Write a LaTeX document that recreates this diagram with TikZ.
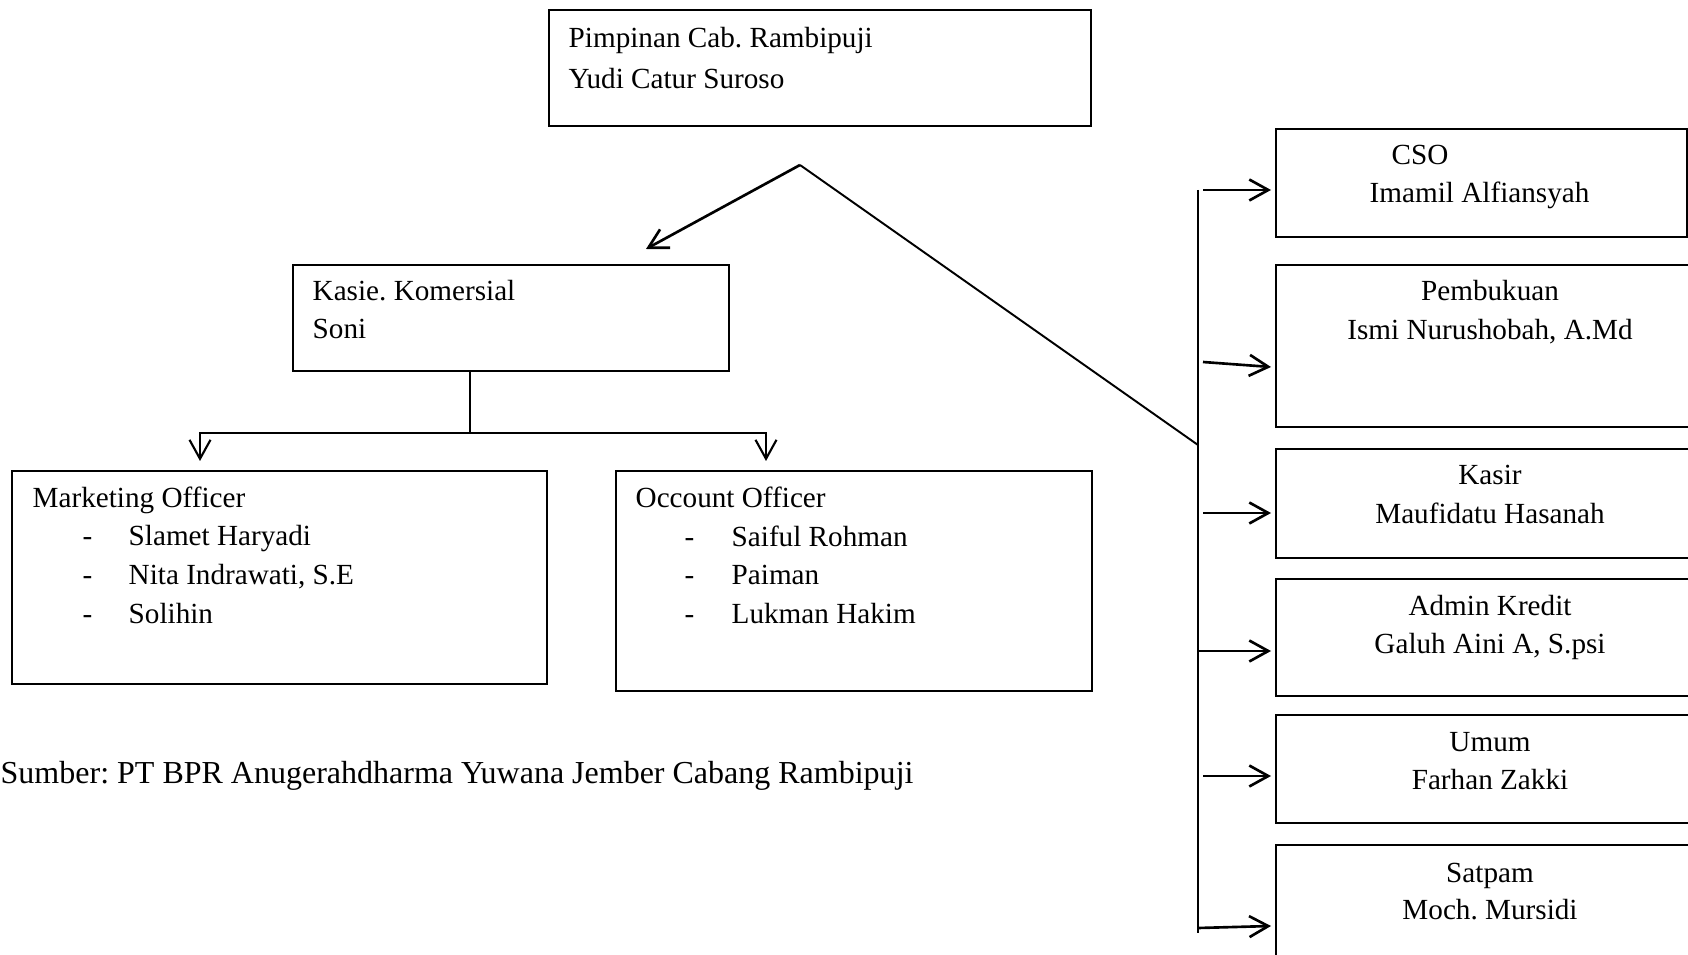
\documentclass[tikz,border=0pt]{standalone}
\usepackage{fontspec}
\setmainfont{Liberation Serif}
\frenchspacing
\usetikzlibrary{arrows.meta}

\begin{document}
\begin{tikzpicture}[x=0.01cm, y=-0.01cm, >={Straight Barb[length=1.9mm, width=2.1mm]},
  box/.style={draw, line width=0.55pt, inner sep=0pt, anchor=north west},
  lbl/.style={inner sep=0pt, font=\fontsize{8.3}{10}\selectfont},
  link/.style={line width=0.75pt}]
\clip (0,0) rectangle (1688,955);

% ===== kotak =====
\node[box, minimum width=5.42cm, minimum height=1.16cm] (pimpinan) at (548,9) {};
\node[box, minimum width=4.36cm, minimum height=1.06cm] (kasie) at (292,264) {};
\node[box, minimum width=5.35cm, minimum height=2.13cm] (marketing) at (11,470) {};
\node[box, minimum width=4.76cm, minimum height=2.20cm] (occount) at (615,470) {};
\node[box, minimum width=4.11cm, minimum height=1.08cm] (cso) at (1275,128) {};
\node[box, minimum width=4.40cm, minimum height=1.62cm] (pembukuan) at (1275,264) {};
\node[box, minimum width=4.40cm, minimum height=1.09cm] (kasir) at (1275,448) {};
\node[box, minimum width=4.40cm, minimum height=1.17cm] (admin) at (1275,578) {};
\node[box, minimum width=4.40cm, minimum height=1.08cm] (umum) at (1275,714) {};
\node[box, minimum width=4.40cm, minimum height=1.30cm] (satpam) at (1275,844) {};

% ===== teks kiri =====
\node[lbl, anchor=base west] (pimpinan1) at (568,48) {Pimpinan Cab. Rambipuji};
\node[lbl, anchor=base west] (pimpinan2) at (568,89) {Yudi Catur Suroso};
\node[lbl, anchor=base west] (kasie1) at (312,301) {Kasie. Komersial};
\node[lbl, anchor=base west] (kasie2) at (312,339) {Soni};

\node[lbl, anchor=base west] (marketing0) at (32,507) {Marketing Officer};
\node[lbl, anchor=base west] (mdash1) at (82,545) {-};
\node[lbl, anchor=base west] (mdash2) at (82,584) {-};
\node[lbl, anchor=base west] (mdash3) at (82,623) {-};
\node[lbl, anchor=base west] (marketing1) at (128,545) {Slamet Haryadi};
\node[lbl, anchor=base west] (marketing2) at (128,584) {Nita Indrawati, S.E};
\node[lbl, anchor=base west] (marketing3) at (128,623) {Solihin};

\node[lbl, anchor=base west] (occount0) at (635,507) {Occount Officer};
\node[lbl, anchor=base west] (odash1) at (684,546) {-};
\node[lbl, anchor=base west] (odash2) at (684,584) {-};
\node[lbl, anchor=base west] (odash3) at (684,623) {-};
\node[lbl, anchor=base west] (occount1) at (731,546) {Saiful Rohman};
\node[lbl, anchor=base west] (occount2) at (731,584) {Paiman};
\node[lbl, anchor=base west] (occount3) at (731,623) {Lukman Hakim};

\node[lbl, anchor=base west, font=\fontsize{9.1}{11}\selectfont] (sumber) at (0,783) {Sumber: PT BPR Anugerahdharma Yuwana Jember Cabang Rambipuji};

% ===== teks kanan =====
\node[lbl, anchor=base west] (cso1) at (1391,165) {CSO};
\node[lbl, anchor=base west] (cso2) at (1369,203) {Imamil Alfiansyah};
\node[lbl, anchor=base] (pembukuan1) at (1490,301) {Pembukuan};
\node[lbl, anchor=base] (pembukuan2) at (1490,340) {Ismi Nurushobah, A.Md};
\node[lbl, anchor=base] (kasir1) at (1490,485) {Kasir};
\node[lbl, anchor=base] (kasir2) at (1490,523) {Maufidatu Hasanah};
\node[lbl, anchor=base] (admin1) at (1490,615) {Admin Kredit};
\node[lbl, anchor=base] (admin2) at (1490,653) {Galuh Aini A, S.psi};
\node[lbl, anchor=base] (umum1) at (1490,751) {Umum};
\node[lbl, anchor=base] (umum2) at (1490,789) {Farhan Zakki};
\node[lbl, anchor=base] (satpam1) at (1490,882) {Satpam};
\node[lbl, anchor=base] (satpam2) at (1490,919) {Moch. Mursidi};

% ===== garis dari pimpinan =====
\coordinate (apex) at (800,165);
\coordinate (kasieIn) at (646,249);
\coordinate (busJoin) at (1198,445);
\coordinate (busTop) at (1198,190);
\coordinate (busBot) at (1198,933);
\draw[link, ->] (apex) -- (kasieIn);
\draw[line width=0.55pt] (apex) -- (busJoin);
\draw[line width=0.6pt] (busTop) -- (busBot);

% ===== cabang kasie =====
\coordinate (fork) at (470,433);
\draw[line width=0.6pt] (fork |- kasie.south) -- (fork);
\draw[line width=0.6pt, ->, shorten >=0.9mm] (fork) -| ([shift={(189,0)}]marketing.north west);
\draw[line width=0.6pt, ->, shorten >=0.9mm] (fork) -| ([shift={(151,0)}]occount.north west);

% ===== panah ke kanan =====
\draw[link, ->] ([shift={(-72,62)}]cso.north west) -- ([shift={(-4,62)}]cso.north west);
\draw[link, ->] ([shift={(-72,98)}]pembukuan.north west) -- ([shift={(-4,103)}]pembukuan.north west);
\draw[link, ->] ([shift={(-72,65)}]kasir.north west) -- ([shift={(-4,65)}]kasir.north west);
\draw[link, ->] ([shift={(-77,73)}]admin.north west) -- ([shift={(-4,73)}]admin.north west);
\draw[link, ->] ([shift={(-72,62)}]umum.north west) -- ([shift={(-4,62)}]umum.north west);
\draw[link, ->] ([shift={(-77,84)}]satpam.north west) -- ([shift={(-4,82)}]satpam.north west);
\end{tikzpicture}
\end{document}
